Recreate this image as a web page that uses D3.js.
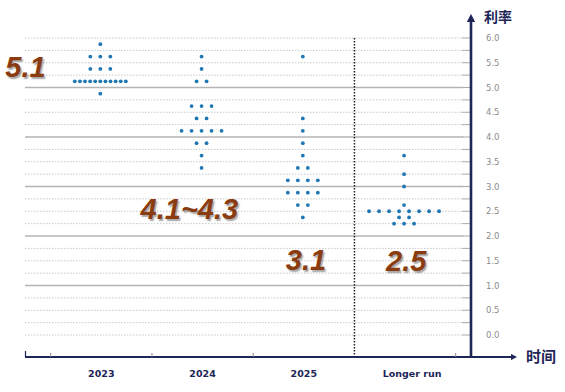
<!DOCTYPE html>
<html>
<head>
<meta charset="utf-8">
<script src="https://cdn.jsdelivr.net/npm/d3@7"></script>
<style>
  body { margin: 0; background: #fff; }
  svg { display: block; }
</style>
</head>
<body>
<div id="chart"></div>
<script>
// categories on the time axis
const categories = ["2023", "2024", "2025", "Longer run"];

// [rate, number of participants] per column
const dots2023 = [[5.875, 1], [5.625, 3], [5.375, 3], [5.125, 11], [4.875, 1]];
const dots2024 = [[5.625, 1], [5.375, 1], [5.125, 2], [4.625, 3], [4.375, 2], [4.125, 5], [3.875, 2], [3.625, 1], [3.375, 1]];
const dots2025 = [[5.625, 1], [4.375, 1], [4.125, 1], [3.875, 1], [3.625, 1], [3.375, 2], [3.125, 4], [2.875, 4], [2.625, 2], [2.375, 1]];
const dotsLongRun = [[3.625, 1], [3.25, 1], [3.0, 1], [2.625, 1], [2.5, 8], [2.375, 2], [2.25, 3]];

// median labels
const medianLabels = ["5.1", "4.1~4.3", "3.1", "2.5"];

const yTicks = [0, 0.5, 1, 1.5, 2, 2.5, 3, 3.5, 4, 4.5, 5, 5.5, 6];

const width = 565;
const height = 392;

const svg = d3.select("#chart")
    .append("svg")
    .attr("width", width)
    .attr("height", height);

const axisColor = "#1d2657";
const axisY = 357;
const axisX = 471;

const x = d3.scaleBand()
    .domain(categories)
    .range([50.7, 455.7]);

const y = d3.scaleLinear()
    .domain([0, 6])
    .range([335, 38]);

const center = d => x(d) + x.bandwidth() / 2;

// grid lines every 0.25
const gridVals = d3.range(0, 6.01, 0.25);
const isMajor = d => d > 0 && d < 6 && d % 1 === 0;
svg.append("g")
    .selectAll("line")
    .data(gridVals)
    .enter()
    .append("line")
    .attr("x1", 25)
    .attr("x2", axisX - 8)
    .attr("y1", d => y(d))
    .attr("y2", d => y(d))
    .attr("stroke", d => isMajor(d) ? "#b4b4b4" : "#c8c8c8")
    .attr("stroke-width", d => isMajor(d) ? 1.3 : 1)
    .attr("stroke-dasharray", d => isMajor(d) ? null : "1.5,1.5");

// short solid ticks next to the axis
svg.append("g")
    .selectAll("line")
    .data(gridVals)
    .enter()
    .append("line")
    .attr("x1", axisX - 9)
    .attr("x2", axisX)
    .attr("y1", d => y(d))
    .attr("y2", d => y(d))
    .attr("stroke", "#aaaaaa")
    .attr("stroke-width", 1);

// dotted separator before "Longer run"
svg.append("line")
    .attr("x1", x("Longer run"))
    .attr("x2", x("Longer run"))
    .attr("y1", y(6))
    .attr("y2", axisY)
    .attr("stroke", "#222")
    .attr("stroke-width", 1.5)
    .attr("stroke-dasharray", "1.5,1.5");

// dots
const columns = [dots2023, dots2024, dots2025, dotsLongRun];
const points = [];
columns.forEach((col, i) => {
    const cx = center(categories[i]) - 1;
    col.forEach(([rate, n]) => {
        const step = n > 8 ? 51 / (n - 1) : 10;
        for (let k = 0; k < n; k++) {
            points.push({ x: cx + (k - (n - 1) / 2) * step, rate: rate });
        }
    });
});

svg.append("g")
    .selectAll("circle")
    .data(points)
    .enter()
    .append("circle")
    .attr("cx", d => d.x)
    .attr("cy", d => y(d.rate))
    .attr("r", 1.9)
    .attr("fill", "#1f77b4");

// y axis tick labels
svg.append("g")
    .selectAll("text")
    .data(yTicks)
    .enter()
    .append("text")
    .attr("x", 486)
    .attr("y", d => y(d) + 3)
    .attr("font-family", "DejaVu Sans, sans-serif")
    .attr("font-size", 8.5)
    .attr("fill", "#8c8c8c")
    .text(d => d.toFixed(1));

// arrow marker
const defs = svg.append("defs");
defs.append("marker")
    .attr("id", "arrow")
    .attr("viewBox", "0 0 10 10")
    .attr("refX", 5)
    .attr("refY", 5)
    .attr("markerWidth", 3.2)
    .attr("markerHeight", 3.2)
    .attr("orient", "auto")
    .append("path")
    .attr("d", "M0,0 L10,5 L0,10 z")
    .attr("fill", axisColor);

// x axis
svg.append("line")
    .attr("x1", 25)
    .attr("x2", 514)
    .attr("y1", axisY)
    .attr("y2", axisY)
    .attr("stroke", axisColor)
    .attr("stroke-width", 2)
    .attr("marker-end", "url(#arrow)");

// x ticks
const boundaries = [x("2023"), x("2024"), x("2025"), x("Longer run") + x.bandwidth()];
svg.append("g")
    .selectAll("line")
    .data(boundaries)
    .enter()
    .append("line")
    .attr("x1", d => d)
    .attr("x2", d => d)
    .attr("y1", axisY)
    .attr("y2", axisY - 4)
    .attr("stroke", "#888")
    .attr("stroke-width", 1);

svg.append("line")
    .attr("x1", 25.5)
    .attr("x2", 25.5)
    .attr("y1", axisY)
    .attr("y2", axisY - 6)
    .attr("stroke", axisColor)
    .attr("stroke-width", 1.2);

// y axis
svg.append("line")
    .attr("x1", axisX)
    .attr("x2", axisX)
    .attr("y1", axisY + 1)
    .attr("y2", 18)
    .attr("stroke", axisColor)
    .attr("stroke-width", 2.6)
    .attr("marker-end", "url(#arrow)");

// category labels
svg.append("g")
    .selectAll("text")
    .data(categories)
    .enter()
    .append("text")
    .attr("x", d => center(d) + (d === "Longer run" ? 7 : 0))
    .attr("y", 377)
    .attr("text-anchor", "middle")
    .attr("font-family", "DejaVu Sans, sans-serif")
    .attr("font-weight", "bold")
    .attr("font-size", 9.5)
    .attr("fill", axisColor)
    .text(d => d);

// axis titles
svg.append("text")
    .attr("x", 484)
    .attr("y", 22)
    .attr("font-family", "Noto Sans CJK SC, sans-serif")
    .attr("font-weight", "bold")
    .attr("font-size", 14)
    .attr("fill", axisColor)
    .text("利率");

svg.append("text")
    .attr("x", 526)
    .attr("y", 362)
    .attr("font-family", "Noto Sans CJK SC, sans-serif")
    .attr("font-weight", "bold")
    .attr("font-size", 15)
    .attr("fill", axisColor)
    .text("时间");

// median annotations: [x offset from column centre, baseline]
const labelLayout = [[-96, 77], [-62, 219], [-18, 270], [-19, 271]];
svg.append("g")
    .selectAll("text")
    .data(medianLabels)
    .enter()
    .append("text")
    .attr("x", (d, i) => center(categories[i]) + labelLayout[i][0])
    .attr("y", (d, i) => labelLayout[i][1])
    .attr("font-family", "Liberation Sans, Arial, sans-serif")
    .attr("font-weight", "bold")
    .attr("font-style", "italic")
    .attr("font-size", 29)
    .attr("fill", "#8a3c10")
    .style("text-shadow", "1.5px 1.5px 1.5px rgba(0,0,0,0.35)")
    .text(d => d);
</script>
</body>
</html>
